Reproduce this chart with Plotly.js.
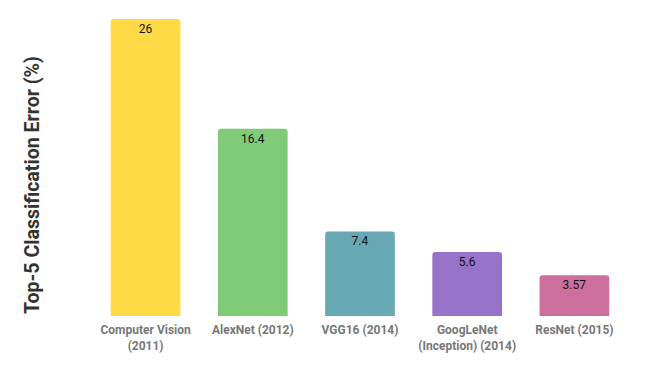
<!DOCTYPE html>
<html><head><meta charset="utf-8">
<script src="https://cdn.plot.ly/plotly-3.0.1.min.js"></script>
<style>html,body{margin:0;padding:0;background:#fff}</style>
</head><body>
<div id="chart" style="width:665px;height:371px"></div>
<script>
const categories = ["Computer Vision<br>(2011)", "AlexNet (2012)", "VGG16 (2014)", "GoogLeNet<br>(Inception) (2014)", "ResNet (2015)"];
const errors = [26, 16.4, 7.4, 5.6, 3.57];
const labels = ["26", "16.4", "7.4", "5.6", "3.57"];
const colors = ["#FFDA47", "#80CB77", "#67A8B2", "#9672C8", "#CE6F9E"];
const yTitle = "Top-5 Classification Error (%)";

Plotly.newPlot("chart", [{
  type: "bar",
  x: categories,
  y: errors,
  text: labels,
  textposition: "inside",
  insidetextanchor: "end",
  textangle: 0,
  textfont: {family: "Roboto", size: 12, color: "#111"},
  marker: {color: colors, cornerradius: 3},
  hoverinfo: "none"
}], {
  width: 665, height: 371,
  margin: {l: 92, r: 37, t: 19, b: 55},
  bargap: 0.35,
  paper_bgcolor: "#fff", plot_bgcolor: "#fff",
  font: {family: "Roboto"},
  xaxis: {
    tickfont: {family: "Roboto", size: 12, color: "#777", weight: "bold"},
    ticklabelstandoff: 5,
    showline: false, ticks: "", showgrid: false
  },
  yaxis: {
    range: [0, 26],
    showticklabels: false, showgrid: false, zeroline: false, ticks: ""
  },
  annotations: [{
    text: yTitle, xref: "paper", yref: "paper",
    x: -0.112, y: 0.441, xanchor: "center", yanchor: "middle",
    textangle: -90, showarrow: false,
    font: {family: "Roboto", size: 19.6, color: "#333", weight: "bold"}
  }],
  showlegend: false
}, {displayModeBar: false, staticPlot: true});
</script>
</body></html>
